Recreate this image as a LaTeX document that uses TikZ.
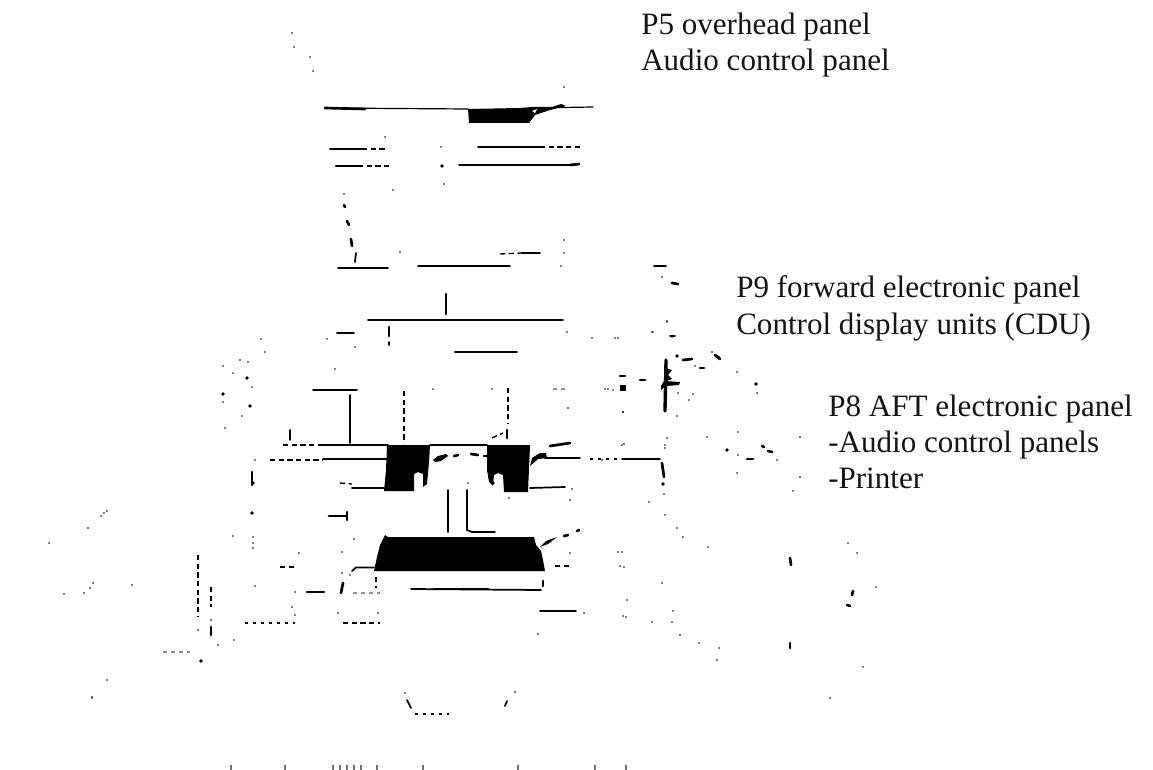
\documentclass[tikz,border=0pt]{standalone}
\usepackage{fontspec}
\setmainfont{Liberation Serif}
\tikzset{
  lab/.style={anchor=base west,inner sep=0pt,font=\fontsize{23.3pt}{28pt}\selectfont,text=black!92},
  ink/.style={fill=black,draw=none},
  thin line/.style={draw=black,line width=0.9pt,line cap=round},
  mid line/.style={draw=black,line width=1.3pt,line cap=round},
  thick line/.style={draw=black,line width=2pt,line cap=round},
  broken/.style={draw=black,line width=1pt,dash pattern=on 4pt off 2.5pt},
  sparse/.style={draw=black,line width=0.9pt,dash pattern=on 2pt off 4pt},
  faint/.style={draw=black!45,line width=0.8pt,dash pattern=on 3pt off 3pt}
}
\newcommand{\specks}[1]{\foreach \px/\py in {#1}{\fill (\px,\py) circle (0.95);}}
\newcommand{\blobs}[1]{\foreach \px/\py in {#1}{\fill (\px,\py) circle (1.8);}}
\begin{document}
\begin{tikzpicture}[x=0.75pt,y=-0.75pt]
\useasboundingbox (0,0) rectangle (1153,770);
% labels
\node[lab] (p5a) at (641,35) {P5 overhead panel};
\node[lab] (p5b) at (641,71) {Audio control panel};
\node[lab] (p9a) at (736,297) {P9 forward electronic panel};
\node[lab] (p9b) at (736,334) {Control display units (CDU)};
\node[lab] (p8a) at (828,416) {P8 AFT electronic panel};
\node[lab] (p8b) at (828,452) {-Audio control panels};
\node[lab] (p8c) at (828,488) {-Printer};
% overhead panel
\draw[thin line] (325,108) -- (468,109);
\draw[thick line] (325,108) -- (365,109);
\draw[thin line] (530,108) -- (593,107);
\fill[ink] (468,109) -- (520,108) -- (532,107) -- (552,107) -- (561,104) -- (566,106) -- (550,110) -- (535,115) -- (529,123) -- (469,123) -- cycle;
\fill[white] (532,111) -- (537,109) -- (535,113) -- cycle;
\draw[mid line] (330,149) -- (362,149);
\draw[broken] (362,149) -- (388,149);
\draw[mid line] (478,147) -- (540,147);
\draw[broken] (540,147) -- (583,147);
\draw[thick line] (336,166) -- (358,166);
\draw[broken] (358,166) -- (392,166);
\draw[mid line] (459,165) -- (576,165);
\draw[thick line] (570,165) -- (579,164);
% middle tiers
\draw[thick line] (344,205) -- (345,207);
\draw[thick line] (347,221) -- (349,225);
\draw[thick line] (351,239) -- (352,246);
\draw[mid line] (356,253) -- (355,262);
\draw[mid line] (338,268) -- (388,268);
\draw[mid line] (418,266) -- (510,266);
\draw[mid line] (522,253) -- (540,253);
\draw[broken] (500,254) -- (522,253);
\draw[thick line] (446,294) -- (446,314);
\draw[mid line] (368,320) -- (563,320);
\draw[mid line] (455,352) -- (517,352);
\draw[thick line] (389,327) -- (389,336);
\draw[mid line] (389,342) -- (389,345);
\draw[mid line] (337,333) -- (354,333);
% upper desk
\draw[mid line] (313,390) -- (357,390);
\draw[mid line] (350,395) -- (350,443);
\draw[broken] (404,391) -- (404,443);
\draw[broken] (508,388) -- (508,424);
\draw[thick line] (507,430) -- (507,438);
\draw[broken] (492,438) -- (503,433);
\draw[mid line] (290,430) -- (290,440);
\draw[broken] (283,445) -- (320,445);
\draw[mid line] (320,445) -- (388,445);
\draw[mid line] (430,445) -- (487,445);
\draw[thick line] (550,446) -- (570,443);
\draw[broken] (270,460) -- (323,460);
\draw[mid line] (323,459) -- (388,459);
\draw[mid line] (545,458) -- (580,458);
\draw[sparse] (590,459) -- (620,459);
\draw[mid line] (622,459) -- (660,459);
% left and right CDU/pedestal blocks
\fill[ink] (387,445) -- (430,445) -- (429,462) -- (427,484) -- (423,487) -- (423,474) -- (418,472) -- (414,474) -- (414,491) -- (384,491) -- (386,470) -- cycle;
\fill[ink] (487,445) -- (530,445) -- (528,492) -- (504,492) -- (503,475) -- (498,473) -- (494,475) -- (493,486) -- (489,482) -- (487,470) -- cycle;
\fill[ink] (532,458) -- (540,453) -- (546,453) -- (547,458) -- (538,459) -- (530,466) -- cycle;
\fill[ink] (433,460) -- (438,456) -- (446,454) -- (448,456) -- (441,461) -- (435,462) -- cycle;
\draw[thick line] (454,456) -- (458,455);
\draw[thick line] (471,454) -- (478,455);
\draw[thick line] (484,456) -- (487,456);
\draw[broken] (340,483) -- (352,484);
\draw[mid line] (352,488) -- (384,488);
\draw[mid line] (530,488) -- (565,487);
\draw[thick line] (252,472) -- (252,485);
\draw[mid line] (448,490) -- (448,532);
\draw[mid line] (467,490) -- (467,530) -- (472,532);
\draw[mid line] (472,532) -- (495,532);
% pedestal block
\fill[ink] (385,535) -- (388,537) -- (534,537) -- (536,545) -- (541,551) -- (543,560) -- (545,571) -- (374,571) -- (377,557) -- (380,545) -- cycle;
\draw[mid line] (374,567.5) -- (356,567.5) -- (352,571);
\fill[ink] (540,547) -- (546,541) -- (557,537) -- (548,544) -- cycle;
\draw[thick line] (564,536) -- (568,535);
\draw[thick line] (577,531) -- (579,530);
\draw[thick line] (343,583) -- (341,593);
\draw[mid line] (411,589) -- (541,590);
\draw[thick line] (434,589) -- (488,589);
\draw[thick line] (543,581) -- (543,586);
\draw[mid line] (540,611) -- (576,611);
\draw[broken] (555,566) -- (570,566);
\draw[faint] (353,593) -- (380,593);
\draw[broken] (376,577) -- (376,588);
\draw[broken] (343,623) -- (380,623);
\draw[thick line] (307,592) -- (324,592);
\draw[broken] (280,567) -- (297,567);
\draw[sparse] (245,623) -- (295,623);
\draw[thick line] (329,516) -- (347,516);
\draw[thick line] (347,512) -- (347,520);
\draw[broken] (198,555) -- (198,617);
\draw[broken] (211,587) -- (211,607);
\draw[thick line] (211,627) -- (211,635);
\draw[faint] (163,652) -- (190,652);
% foot well
\draw[mid line] (407,700) -- (411,708);
\draw[sparse] (415,714) -- (449,714);
\draw[mid line] (507,701) -- (505,706);
% right F mark
\draw[line width=2.5pt,line cap=round] (666,360) -- (665,411);
\fill[ink] (664,368) -- (672,370) -- (668,375) -- (672,379) -- (664,382) -- cycle;
\fill[ink] (664,381) -- (680,382) -- (679,385) -- (666,386) -- (661,390) -- (661,386) -- cycle;
\draw[thick line] (683,360) -- (692,359);
\draw[thick line] (700,368) -- (704,368);
\draw[mid line] (654,266) -- (666,266);
\draw[thick line] (672,283) -- (678,284);
\draw[mid line] (670,336) -- (675,336);
\draw[thick line] (640,380) -- (645,380);
\draw[thick line] (620,376) -- (625,376);
\fill[ink] (620,385) rectangle (626,391);
\draw[thick line] (715,355) -- (720,359);
\draw[thick line] (747,459) -- (753,459);
\draw[thick line] (768,451) -- (772,452);
\draw[thick line] (762,446) -- (764,447);
\draw[thick line] (662,463) -- (664,477);
\draw[thick line] (790,643) -- (790,648);
\draw[thick line] (853,591) -- (852,595);
\draw[thick line] (847,605) -- (850,606);
\draw[thick line] (790,558) -- (791,565);
\draw[faint] (553,389) -- (567,389);
% bottom edge marks
\foreach \bx in {231,285,333,340,347,354,361,377,423,518,595,626}{\draw[black!55,line width=1pt] (\bx,765) -- (\bx,770);}
\blobs{677/356,756/384,663/484,247/378,223/394,250/406,442/166,201/661,253/483,252/513,
623/387,727/450,718/357,493/483}
\specks{292/33,294/47,310/57,313/71,385/137,441/147,444/184,393/190,344/194,400/252,564/240,564/253,561/266,564/87,
261/339,327/339,355/347,265/352,335/369,248/362,240/360,223/366,233/373,252/387,223/402,242/416,225/428,255/460,
567/332,592/338,615/338,653/332,672/337,667/322,568/408,608/389,623/412,433/389,492/389,622/445,665/445,602/460,
695/366,712/352,737/372,757/393,678/393,693/394,689/400,677/416,613/390,605/389,623/412,662/277,667/321,652/332,618/338,
738/432,707/437,667/438,665/448,624/444,800/437,738/455,737/473,777/460,800/477,793/491,
664/494,649/502,665/515,677/528,683/537,708/547,618/552,620/566,662/583,623/616,652/622,673/611,672/622,680/635,699/643,719/648,717/660,
857/553,848/543,876/587,863/667,830/698,
101/516,104/513,107/511,88/528,49/543,64/594,84/593,90/588,93/583,132/585,107/680,92/698,
211/620,198/630,218/645,234/640,233/536,253/537,253/543,253/548,255/586,299/553,295/592,292/607,295/615,
354/539,342/552,342/573,350/575,338/613,378/613,584/613,538/634,570/553,622/552,624/567,627/600,626/617,
405/693,515/692,426/482,468/483,509/498,572/489,570/500,92/697}
\end{tikzpicture}
\end{document}
